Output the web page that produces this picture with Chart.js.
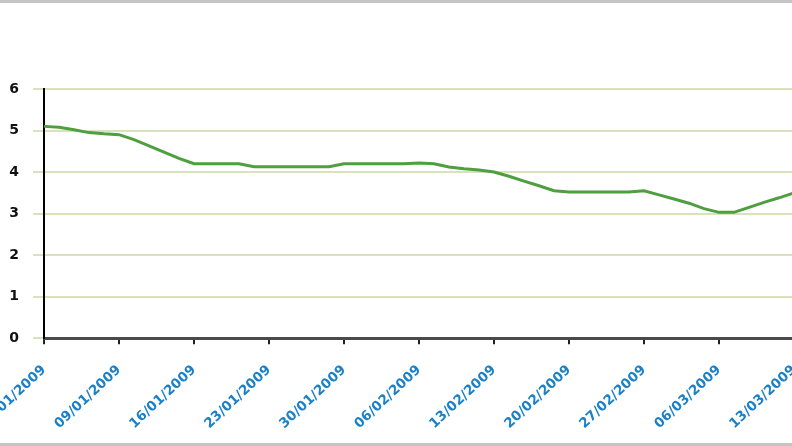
<!DOCTYPE html>
<html>
<head>
<meta charset="utf-8">
<script src="https://cdn.jsdelivr.net/npm/chart.js@4.4.1/dist/chart.umd.min.js"></script>
<style>
    html, body { margin: 0; padding: 0; background: #fff; overflow: hidden; }
    .frame {
        position: relative;
        width: 792px;
        height: 446px;
        overflow: hidden;
        box-sizing: border-box;
        border-top: 3px solid #c4c4c4;
        border-bottom: 3px solid #c4c4c4;
    }
    .chart-box {
        position: absolute;
        left: 0;
        top: -3px;
        width: 812px;
        height: 450px;
    }
</style>
</head>
<body>
<div class="frame">
    <div class="chart-box"><canvas id="rate-chart"></canvas></div>
</div>
<script>
    // business days, one point per day
    const days = [
        '02/01/2009',
        '05/01/2009', '06/01/2009', '07/01/2009', '08/01/2009', '09/01/2009',
        '12/01/2009', '13/01/2009', '14/01/2009', '15/01/2009', '16/01/2009',
        '19/01/2009', '20/01/2009', '21/01/2009', '22/01/2009', '23/01/2009',
        '26/01/2009', '27/01/2009', '28/01/2009', '29/01/2009', '30/01/2009',
        '02/02/2009', '03/02/2009', '04/02/2009', '05/02/2009', '06/02/2009',
        '09/02/2009', '10/02/2009', '11/02/2009', '12/02/2009', '13/02/2009',
        '16/02/2009', '17/02/2009', '18/02/2009', '19/02/2009', '20/02/2009',
        '23/02/2009', '24/02/2009', '25/02/2009', '26/02/2009', '27/02/2009',
        '02/03/2009', '03/03/2009', '04/03/2009', '05/03/2009', '06/03/2009',
        '09/03/2009', '10/03/2009', '11/03/2009', '12/03/2009', '13/03/2009'
    ];

    const rate = [
        5.10,
        5.08, 5.02, 4.95, 4.92, 4.90,
        4.78, 4.63, 4.48, 4.33, 4.20,
        4.20, 4.20, 4.20, 4.13, 4.13,
        4.13, 4.13, 4.13, 4.13, 4.20,
        4.20, 4.20, 4.20, 4.20, 4.22,
        4.20, 4.12, 4.08, 4.05, 4.00,
        3.90, 3.78, 3.67, 3.55, 3.52,
        3.52, 3.52, 3.52, 3.52, 3.55,
        3.45, 3.35, 3.25, 3.12, 3.03,
        3.03, 3.15, 3.27, 3.38, 3.50
    ];

    const tickLabels = ['02/01/2009', '09/01/2009', '16/01/2009', '23/01/2009', '30/01/2009',
        '06/02/2009', '13/02/2009', '20/02/2009', '27/02/2009', '06/03/2009', '13/03/2009'];

    const yTicks = [0, 1, 2, 3, 4, 5, 6];

    const ctx = document.getElementById('rate-chart').getContext('2d');
    const rateChart = new Chart(ctx, {
        type: 'line',
        data: {
            labels: days,
            datasets: [{
                data: rate,
                borderColor: '#4f9e3f',
                borderWidth: 3,
                pointRadius: 0,
                tension: 0,
                fill: false
            }]
        },
        options: {
            responsive: true,
            maintainAspectRatio: false,
            animation: false,
            layout: { padding: { top: 89, right: 18, left: 0, bottom: 0 } },
            plugins: {
                legend: { display: false },
                tooltip: { enabled: false }
            },
            scales: {
                x: {
                    offset: false,
                    afterFit: function(scale) {
                        scale.paddingLeft = 0;
                        scale.paddingRight = 0;
                    },
                    border: { display: true, color: '#4a4a4a', width: 3 },
                    grid: {
                        drawOnChartArea: false,
                        drawTicks: true,
                        tickLength: 6,
                        color: '#222',
                        lineWidth: 2
                    },
                    ticks: {
                        autoSkip: false,
                        minRotation: 43,
                        maxRotation: 43,
                        padding: 18,
                        color: '#1a80c8',
                        font: { family: 'DejaVu Sans', size: 13.5, weight: 'bold' },
                        callback: function(value) {
                            const label = this.getLabelForValue(value);
                            return tickLabels.includes(label) ? label : null;
                        }
                    }
                },
                y: {
                    min: 0,
                    max: 6,
                    afterFit: function(scale) {
                        scale.width = 44;
                    },
                    afterBuildTicks: function(scale) {
                        scale.ticks = yTicks.map(v => ({ value: v }));
                    },
                    border: { display: true, color: '#000', width: 2 },
                    grid: {
                        color: '#d8e2bd',
                        lineWidth: 2,
                        tickLength: 11
                    },
                    ticks: {
                        padding: 14,
                        color: '#111',
                        font: { family: 'DejaVu Sans', size: 14, weight: 'bold' }
                    }
                }
            }
        }
    });
</script>
</body>
</html>
